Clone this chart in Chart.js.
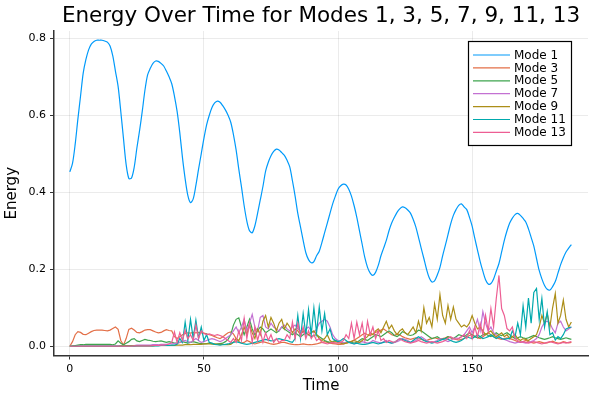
<!DOCTYPE html>
<html>
<head>
<meta charset="utf-8">
<script src="https://cdn.jsdelivr.net/npm/chart.js@4.4.1/dist/chart.umd.min.js"></script>
<style>
  html, body { margin: 0; padding: 0; background: #fff; }
  #wrap { width: 600px; height: 400px; }
</style>
</head>
<body>
<div id="wrap"><canvas id="c" width="600" height="400"></canvas></div>
<script>
const titleText = "Energy Over Time for Modes 1, 3, 5, 7, 9, 11, 13";
const xTicks = [0, 50, 100, 150];
const yTicks = [0, 0.2, 0.4, 0.6, 0.8];
const seriesNames = ["Mode 1", "Mode 3", "Mode 5", "Mode 7", "Mode 9", "Mode 11", "Mode 13"];
const seriesColors = ["#009AFA", "#E36F47", "#3EA44E", "#C371D2", "#AC8E18", "#00A9AD", "#ED5E93"];

const time = [
  0,1,2,3,4,5,6,7,8,9,10,11,12,13,14,15,16,17,18,19,
  20,21,22,23,24,25,26,27,28,29,30,31,32,33,34,35,36,37,38,39,
  40,41,42,43,44,45,46,47,48,49,50,51,52,53,54,55,56,57,58,59,
  60,61,62,63,64,65,66,67,68,69,70,71,72,73,74,75,76,77,78,79,
  80,81,82,83,84,85,86,87,88,89,90,91,92,93,94,95,96,97,98,99,
  100,101,102,103,104,105,106,107,108,109,110,111,112,113,114,115,116,117,118,119,
  120,121,122,123,124,125,126,127,128,129,130,131,132,133,134,135,136,137,138,139,
  140,141,142,143,144,145,146,147,148,149,150,151,152,153,154,155,156,157,158,159,
  160,161,162,163,164,165,166,167,168,169,170,171,172,173,174,175,176,177,178,179,
  180,181,182,183,184,185,186,187
];

const mode1 = [
  0.453,0.475,0.525,0.59,0.65,0.71,0.745,0.77,0.785,0.792,
  0.795,0.795,0.795,0.793,0.79,0.78,0.755,0.715,0.675,0.61,
  0.54,0.472,0.436,0.437,0.465,0.515,0.56,0.61,0.665,0.705,
  0.722,0.735,0.741,0.74,0.735,0.728,0.715,0.7,0.682,0.65,
  0.61,0.555,0.49,0.435,0.392,0.373,0.383,0.418,0.46,0.5,
  0.54,0.575,0.6,0.62,0.632,0.637,0.634,0.625,0.614,0.6,
  0.582,0.55,0.51,0.46,0.414,0.365,0.325,0.3,0.295,0.313,
  0.345,0.38,0.415,0.455,0.478,0.495,0.506,0.512,0.51,0.503,
  0.496,0.483,0.466,0.43,0.39,0.345,0.31,0.275,0.243,0.225,
  0.217,0.22,0.235,0.247,0.27,0.295,0.32,0.345,0.37,0.39,
  0.408,0.417,0.421,0.419,0.408,0.39,0.365,0.335,0.3,0.265,
  0.23,0.205,0.19,0.184,0.192,0.21,0.235,0.255,0.275,0.3,
  0.32,0.335,0.348,0.357,0.362,0.36,0.354,0.346,0.33,0.31,
  0.283,0.255,0.228,0.2,0.178,0.167,0.17,0.185,0.205,0.235,
  0.262,0.29,0.318,0.34,0.355,0.366,0.37,0.362,0.355,0.335,
  0.312,0.28,0.25,0.22,0.195,0.173,0.162,0.163,0.175,0.195,
  0.215,0.245,0.275,0.3,0.32,0.333,0.342,0.345,0.34,0.332,
  0.323,0.305,0.283,0.26,0.228,0.197,0.175,0.158,0.148,0.146,
  0.155,0.168,0.19,0.212,0.23,0.245,0.255,0.264
];

const mode3 = [
  0,0.012,0.03,0.038,0.036,0.031,0.03,0.034,0.038,0.041,
  0.042,0.042,0.042,0.041,0.04,0.042,0.046,0.05,0.044,0.015,
  0.003,0.02,0.044,0.047,0.042,0.036,0.035,0.038,0.042,0.043,
  0.043,0.04,0.037,0.035,0.036,0.04,0.043,0.041,0.04,0.025,
  0.02,0.025,0.03,0.033,0.035,0.034,0.036,0.035,0.036,0.035,
  0.034,0.032,0.03,0.028,0.025,0.022,0.02,0.024,0.03,0.035,
  0.037,0.032,0.02,0.012,0.008,0.01,0.015,0.012,0.008,0.006,
  0.008,0.01,0.012,0.01,0.008,0.006,0.005,0.006,0.008,0.01,
  0.01,0.008,0.006,0.005,0.004,0.004,0.005,0.006,0.005,0.004,
  0.004,0.005,0.006,0.008,0.01,0.012,0.01,0.008,0.007,0.006,
  0.005,0.005,0.006,0.008,0.01,0.013,0.016,0.02,0.025,0.03,
  0.034,0.03,0.028,0.032,0.036,0.04,0.042,0.045,0.04,0.035,
  0.03,0.028,0.032,0.03,0.025,0.022,0.02,0.018,0.02,0.022,
  0.02,0.018,0.016,0.015,0.018,0.02,0.022,0.02,0.018,0.02,
  0.022,0.025,0.022,0.02,0.018,0.016,0.018,0.02,0.024,0.028,
  0.03,0.026,0.022,0.02,0.025,0.03,0.035,0.03,0.025,0.022,
  0.02,0.018,0.02,0.022,0.02,0.018,0.015,0.012,0.01,0.012,
  0.015,0.012,0.01,0.008,0.01,0.012,0.01,0.008,0.009,0.011,
  0.013,0.01,0.008,0.009,0.012,0.01,0.009,0.01
];

const mode5 = [
  0,0.001,0.002,0.003,0.004,0.004,0.005,0.005,0.005,0.005,
  0.005,0.005,0.005,0.005,0.005,0.005,0.004,0.006,0.014,0.008,
  0.004,0.008,0.012,0.018,0.02,0.014,0.012,0.015,0.018,0.016,
  0.015,0.013,0.012,0.013,0.014,0.012,0.01,0.012,0.01,0.008,
  0.008,0.01,0.012,0.01,0.008,0.01,0.012,0.01,0.008,0.007,
  0.006,0.007,0.008,0.006,0.005,0.006,0.007,0.008,0.012,0.018,
  0.03,0.055,0.07,0.074,0.05,0.03,0.05,0.07,0.045,0.03,
  0.04,0.05,0.045,0.035,0.04,0.045,0.04,0.035,0.04,0.05,
  0.045,0.04,0.035,0.03,0.035,0.03,0.025,0.03,0.035,0.03,
  0.025,0.028,0.03,0.025,0.02,0.015,0.012,0.01,0.012,0.015,
  0.012,0.01,0.008,0.01,0.012,0.01,0.008,0.01,0.015,0.02,
  0.018,0.015,0.02,0.025,0.03,0.028,0.025,0.03,0.035,0.04,
  0.035,0.028,0.025,0.03,0.038,0.035,0.03,0.028,0.03,0.035,
  0.042,0.04,0.035,0.03,0.025,0.02,0.022,0.025,0.02,0.018,
  0.02,0.025,0.022,0.02,0.025,0.03,0.028,0.025,0.03,0.035,
  0.03,0.025,0.022,0.025,0.03,0.032,0.028,0.025,0.03,0.035,
  0.03,0.028,0.032,0.035,0.03,0.025,0.02,0.022,0.025,0.022,
  0.02,0.022,0.025,0.028,0.025,0.022,0.02,0.018,0.02,0.022,
  0.025,0.022,0.02,0.018,0.02,0.022,0.02,0.018
];

const mode7 = [
  0,0,0,0,0.001,0.001,0.001,0.001,0.001,0.001,
  0.001,0.001,0.001,0.001,0.001,0.001,0.001,0.001,0.001,0.001,
  0.001,0.002,0.002,0.002,0.002,0.003,0.003,0.003,0.003,0.003,
  0.003,0.004,0.004,0.004,0.005,0.005,0.005,0.006,0.006,0.007,
  0.008,0.01,0.012,0.015,0.012,0.01,0.015,0.02,0.015,0.01,
  0.012,0.015,0.018,0.02,0.018,0.015,0.012,0.015,0.02,0.025,
  0.03,0.04,0.05,0.035,0.05,0.07,0.04,0.06,0.083,0.05,
  0.04,0.075,0.08,0.05,0.045,0.06,0.05,0.045,0.04,0.05,
  0.055,0.045,0.04,0.05,0.055,0.045,0.04,0.035,0.045,0.05,
  0.04,0.035,0.045,0.06,0.065,0.07,0.065,0.05,0.03,0.02,
  0.015,0.01,0.008,0.01,0.012,0.008,0.006,0.008,0.01,0.012,
  0.01,0.008,0.01,0.015,0.012,0.01,0.008,0.012,0.015,0.01,
  0.008,0.01,0.012,0.015,0.02,0.018,0.015,0.01,0.012,0.015,
  0.02,0.025,0.02,0.015,0.012,0.01,0.012,0.015,0.02,0.018,
  0.015,0.012,0.015,0.02,0.022,0.02,0.025,0.03,0.04,0.05,
  0.035,0.05,0.07,0.04,0.09,0.06,0.04,0.05,0.035,0.03,
  0.025,0.02,0.018,0.015,0.012,0.01,0.008,0.01,0.012,0.01,
  0.008,0.01,0.012,0.015,0.02,0.03,0.05,0.062,0.065,0.06,
  0.045,0.035,0.06,0.065,0.05,0.04,0.045,0.05
];

const mode9 = [
  0,0,0,0,0,0,0,0,0,0,
  0,0,0,0,0,0,0,0,0,0.001,
  0.001,0.001,0.001,0.001,0.001,0.001,0.001,0.001,0.001,0.001,
  0.001,0.001,0.002,0.002,0.002,0.002,0.002,0.002,0.002,0.002,
  0.003,0.003,0.003,0.004,0.004,0.004,0.005,0.005,0.005,0.005,
  0.006,0.006,0.006,0.006,0.006,0.005,0.005,0.005,0.004,0.004,
  0.005,0.01,0.02,0.015,0.03,0.05,0.03,0.055,0.035,0.02,
  0.045,0.03,0.065,0.08,0.05,0.075,0.06,0.04,0.06,0.07,
  0.045,0.06,0.05,0.035,0.045,0.04,0.03,0.04,0.035,0.03,
  0.035,0.04,0.03,0.02,0.015,0.02,0.03,0.015,0.01,0.012,
  0.01,0.008,0.006,0.008,0.01,0.012,0.015,0.012,0.01,0.015,
  0.02,0.025,0.035,0.03,0.04,0.045,0.035,0.05,0.065,0.045,
  0.055,0.04,0.03,0.04,0.045,0.035,0.03,0.04,0.05,0.035,
  0.065,0.04,0.1,0.06,0.075,0.05,0.11,0.07,0.134,0.08,
  0.06,0.106,0.07,0.102,0.07,0.06,0.05,0.055,0.05,0.06,
  0.08,0.06,0.045,0.05,0.04,0.03,0.035,0.04,0.03,0.025,
  0.03,0.035,0.025,0.03,0.02,0.025,0.03,0.02,0.015,0.02,
  0.018,0.015,0.02,0.025,0.03,0.05,0.08,0.06,0.085,0.05,
  0.1,0.137,0.06,0.08,0.12,0.07,0.05,0.063
];

const mode11 = [
  0,0,0,0,0,0,0,0,0,0,
  0,0,0,0,0,0,0,0,0,0,
  0,0,0,0,0,0.001,0.001,0.001,0.001,0.001,
  0.001,0.001,0.001,0.001,0.002,0.002,0.002,0.002,0.003,0.003,
  0.005,0.02,0.01,0.063,0.015,0.07,0.02,0.068,0.02,0.05,
  0.015,0.03,0.01,0.008,0.005,0.004,0.003,0.004,0.005,0.006,
  0.008,0.01,0.012,0.01,0.008,0.006,0.005,0.006,0.008,0.01,
  0.012,0.014,0.016,0.018,0.016,0.014,0.015,0.018,0.02,0.018,
  0.016,0.015,0.012,0.01,0.02,0.08,0.02,0.085,0.03,0.095,
  0.03,0.1,0.035,0.102,0.04,0.085,0.03,0.045,0.02,0.015,
  0.012,0.015,0.02,0.015,0.01,0.008,0.006,0.008,0.006,0.005,
  0.005,0.006,0.008,0.01,0.008,0.006,0.008,0.01,0.012,0.01,
  0.008,0.01,0.015,0.02,0.018,0.015,0.012,0.01,0.015,0.02,
  0.025,0.02,0.015,0.012,0.01,0.008,0.01,0.012,0.015,0.018,
  0.02,0.018,0.015,0.012,0.01,0.012,0.015,0.02,0.025,0.022,
  0.02,0.025,0.03,0.025,0.02,0.022,0.025,0.03,0.025,0.02,
  0.025,0.02,0.018,0.02,0.02,0.04,0.025,0.06,0.03,0.105,
  0.05,0.125,0.06,0.14,0.15,0.07,0.124,0.05,0.09,0.03,
  0.035,0.016,0.025,0.02,0.03,0.045,0.048,0.05
];

const mode13 = [
  0,0,0,0,0,0,0,0,0,0,
  0,0,0,0,0,0,0,0,0,0,
  0,0,0,0,0.001,0.001,0.001,0.001,0.001,0.001,
  0.001,0.002,0.002,0.002,0.003,0.003,0.004,0.006,0.01,0.037,
  0.01,0.035,0.015,0.042,0.02,0.03,0.015,0.055,0.02,0.04,
  0.033,0.03,0.032,0.03,0.028,0.03,0.028,0.025,0.02,0.015,
  0.01,0.02,0.01,0.04,0.015,0.072,0.02,0.06,0.01,0.05,
  0.015,0.04,0.01,0.035,0.015,0.03,0.01,0.02,0.01,0.015,
  0.015,0.03,0.02,0.063,0.02,0.06,0.025,0.05,0.02,0.04,
  0.02,0.03,0.015,0.02,0.01,0.008,0.006,0.008,0.01,0.008,
  0.008,0.01,0.015,0.03,0.02,0.06,0.02,0.063,0.03,0.06,
  0.015,0.065,0.03,0.05,0.02,0.04,0.015,0.02,0.01,0.015,
  0.012,0.01,0.015,0.02,0.015,0.012,0.01,0.008,0.01,0.012,
  0.015,0.012,0.01,0.008,0.01,0.012,0.01,0.008,0.01,0.012,
  0.015,0.02,0.025,0.02,0.018,0.02,0.025,0.03,0.02,0.04,
  0.02,0.05,0.025,0.059,0.03,0.08,0.04,0.098,0.05,0.124,
  0.184,0.098,0.08,0.046,0.04,0.05,0.02,0.015,0.01,0.012,
  0.01,0.008,0.01,0.012,0.01,0.008,0.006,0.008,0.01,0.012,
  0.01,0.008,0.006,0.008,0.01,0.008,0.01,0.012
];

const seriesValues = [mode1, mode3, mode5, mode7, mode9, mode11, mode13];

const datasets = seriesValues.map((vals, i) => ({
  label: seriesNames[i],
  data: vals.map((v, k) => ({ x: time[k], y: v })),
  borderColor: seriesColors[i],
  backgroundColor: seriesColors[i],
  borderWidth: 1.2,
  pointRadius: 0,
  tension: i === 0 ? 0.3 : 0,
  fill: false,
  order: seriesValues.length - 1 - i
}));

const FONT = "'DejaVu Sans', 'Liberation Sans', sans-serif";

const overlay = {
  id: 'overlay',
  afterDraw(chart) {
    const ctx = chart.ctx;
    const ca = chart.chartArea;
    ctx.save();
    // title
    ctx.fillStyle = '#000';
    ctx.font = "21.5px " + FONT;
    ctx.textAlign = 'center';
    ctx.textBaseline = 'alphabetic';
    ctx.fillText(titleText, (ca.left + ca.right) / 2, 21.5);
    // legend
    const bx = 468.5, by = 41.5, bw = 103, bh = 104;
    ctx.fillStyle = '#fff';
    ctx.fillRect(bx, by, bw, bh);
    ctx.strokeStyle = '#000';
    ctx.lineWidth = 1.2;
    ctx.strokeRect(bx, by, bw, bh);
    ctx.font = "12px " + FONT;
    ctx.textAlign = 'left';
    ctx.textBaseline = 'middle';
    chart.data.datasets.forEach((ds, i) => {
      const y = 55 + i * 12.9;
      ctx.strokeStyle = ds.borderColor;
      ctx.lineWidth = 1.2;
      ctx.beginPath();
      ctx.moveTo(473, y);
      ctx.lineTo(510, y);
      ctx.stroke();
      ctx.fillStyle = '#000';
      ctx.fillText(ds.label, 514, y + 0.5);
    });
    ctx.restore();
  }
};

new Chart(document.getElementById('c'), {
  type: 'line',
  data: { datasets },
  options: {
    responsive: false,
    animation: false,
    devicePixelRatio: 1,
    layout: { padding: { left: 0, right: 12, top: 31, bottom: 0 } },
    plugins: {
      legend: { display: false },
      title: { display: false },
      tooltip: { enabled: false }
    },
    scales: {
      x: {
        type: 'linear',
        min: -5.9,
        max: 193.2,
        afterFit(scale) { scale.height = 44.5; },
        afterBuildTicks(scale) { scale.ticks = xTicks.map(v => ({ value: v })); },
        grid: { color: 'rgba(0,0,0,0.08)', lineWidth: 1, tickLength: 4, tickColor: '#333' },
        border: { color: '#333', width: 1.5 },
        ticks: { font: { family: FONT, size: 11 }, color: '#000', padding: 3, maxRotation: 0,
                 callback: v => String(v) },
        title: { display: true, text: 'Time', font: { family: FONT, size: 15 }, color: '#000',
                 padding: { top: 0, bottom: 5 } }
      },
      y: {
        type: 'linear',
        min: -0.024,
        max: 0.819,
        afterFit(scale) { scale.width = 54; },
        afterBuildTicks(scale) { scale.ticks = yTicks.map(v => ({ value: v })); },
        grid: { color: 'rgba(0,0,0,0.08)', lineWidth: 1, tickLength: 4, tickColor: '#333' },
        border: { color: '#333', width: 1.5 },
        ticks: { font: { family: FONT, size: 11 }, color: '#000', padding: 4,
                 callback: v => v.toFixed(1) },
        title: { display: true, text: 'Energy', font: { family: FONT, size: 15 }, color: '#000',
                 padding: { top: 3, bottom: 0 } }
      }
    }
  },
  plugins: [overlay]
});
</script>
</body>
</html>
